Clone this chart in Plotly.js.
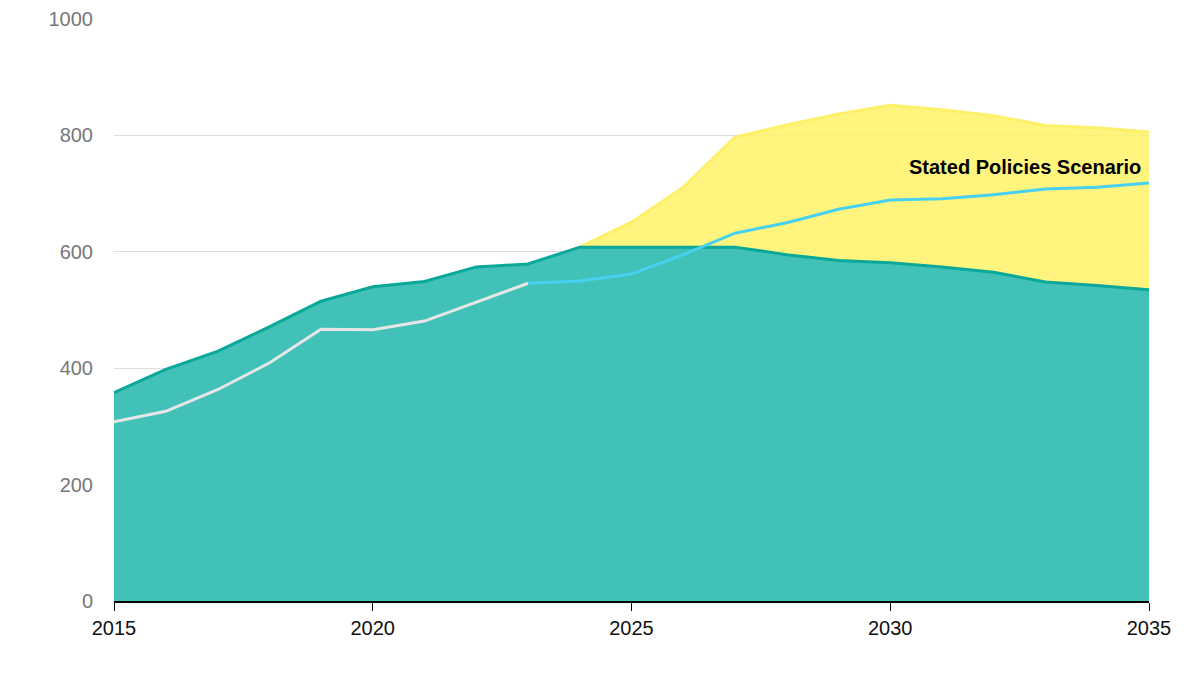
<!DOCTYPE html>
<html><head><script src="https://cdn.plot.ly/plotly-3.0.1.min.js"></script></head>
<body style="margin:0"><div id="c" style="width:1200px;height:700px"></div>
<script>
const years = [2015,2016,2017,2018,2019,2020,2021,2022,2023,2024,2025,2026,2027,2028,2029,2030,2031,2032,2033,2034,2035];
const baseArea = [358,398,429,471,515,540,549,574,579,608,608,608,608,595,585,581,574,565,548,542,535];
const upperYears = [2024,2025,2026,2027,2028,2029,2030,2031,2032,2033,2034,2035];
const upperArea = [608,651,711,797,818,837,852,844,834,817,813,806];
const histYears = [2015,2016,2017,2018,2019,2020,2021,2022,2023];
const histLine = [308,326,363,409,467,466,481,514,546];
const stepsYears = [2023,2024,2025,2026,2027,2028,2029,2030,2031,2032,2033,2034,2035];
const stepsLine = [546,550,562,595,632,650,673,689,691,698,708,711,718];
const traces = [
 {x:upperYears,y:upperArea,type:'scatter',mode:'lines',fill:'tozeroy',fillcolor:'rgba(255,242,102,0.85)',line:{color:'#fff06a',width:3},hoverinfo:'skip'},
 {x:years,y:baseArea,type:'scatter',mode:'lines',fill:'tozeroy',fillcolor:'#41c1b7',line:{color:'#0aa89a',width:3}},
 {x:histYears,y:histLine,type:'scatter',mode:'lines',line:{color:'#e6e6e6',width:3}},
 {x:stepsYears,y:stepsLine,type:'scatter',mode:'lines',line:{color:'#47d1f0',width:3}}
];
const layout = {
 width:1200,height:700,showlegend:false,plot_bgcolor:'#fff',paper_bgcolor:'#fff',
 margin:{l:114,r:51,t:19,b:99},
 font:{family:'Arial, Liberation Sans, sans-serif'},
 xaxis:{range:[2015,2035],tickvals:[2015,2020,2025,2030,2035],ticks:'outside',ticklen:8,tickcolor:'#000',showline:true,linecolor:'#000',linewidth:1.5,showgrid:false,zeroline:false,tickfont:{size:20,color:'#111'}},
 yaxis:{range:[0,1000],tickvals:[0,200,400,600,800,1000],gridcolor:'#dddddd',zeroline:false,tickfont:{size:20,color:'#777'},ticklabelstandoff:20},
 annotations:[{x:2035,y:745,xref:'x',yref:'y',text:'<b>Stated Policies Scenario</b>',showarrow:false,xanchor:'right',xshift:-6,font:{size:20,color:'#000'}}]
};
Plotly.newPlot('c',traces,layout,{displayModeBar:false});
</script></body></html>
